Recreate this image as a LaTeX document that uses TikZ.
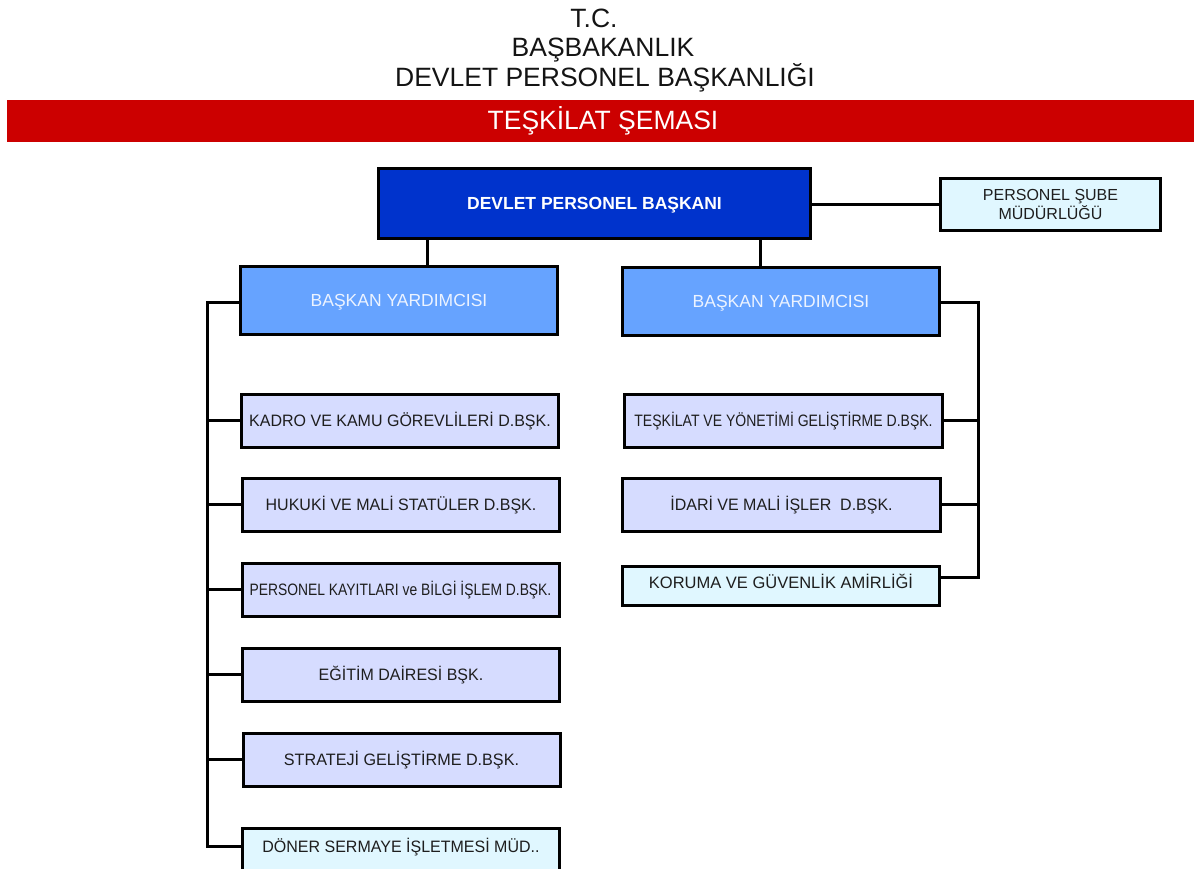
\documentclass[tikz,border=0pt]{standalone}
\usepackage{fontspec}
\setmainfont{Liberation Sans}
\usepackage{graphicx}
\definecolor{redbar}{RGB}{204,0,0}
\definecolor{topblue}{RGB}{0,51,204}
\definecolor{byblue}{RGB}{102,163,255}
\definecolor{lav}{RGB}{214,220,255}
\definecolor{cyanlt}{RGB}{224,247,255}
\definecolor{txt}{RGB}{30,30,30}
\definecolor{bytxt}{RGB}{236,243,255}
\definecolor{ttl}{RGB}{20,20,20}
\newcommand{\hsx}[2]{\scalebox{#1}[1]{#2}}
\begin{document}
\begin{tikzpicture}[x=1pt,y=-1pt,
  title/.style={anchor=base, inner sep=0pt, text=ttl, font=\fontsize{26.5}{30}\selectfont},
  box/.style={draw=black, line width=3pt, inner sep=0pt, minimum height=53pt, minimum width=317pt,
    text=txt, font=\fontsize{16.5}{19}\selectfont, text height=11.8pt, text depth=0pt},
  lavbox/.style={box, fill=lav},
  cyanbox/.style={box, fill=cyanlt},
  bybox/.style={box, fill=byblue, text=bytxt, minimum height=68pt, font=\fontsize{17.5}{20}\selectfont, text height=12.5pt},
  topbox/.style={box, fill=topblue, text=white, minimum width=432pt, minimum height=70pt,
    font=\bfseries\fontsize{17.5}{20}\selectfont, text height=12.5pt},
  psbox/.style={draw=black, line width=3pt, inner sep=0pt, fill=cyanlt, minimum width=220pt, minimum height=52pt,
    text=txt, align=center, font=\fontsize{16}{17}\selectfont},
  conn/.style={draw=black, line width=3pt}]
\useasboundingbox (0,0) rectangle (1194,869);
\clip (0,0) rectangle (1194,869);
\fill[redbar] (7,100) rectangle (1194,142);
\node[title] (tc) at (594,28) {T.C.};
\node[title] (bb) at (603,57) {BAŞBAKANLIK};
\node[title] (dpb) at (605,87) {DEVLET PERSONEL BAŞKANLIĞI};
\node[title, text=white] (ts) at (603,130) {TEŞKİLAT ŞEMASI};

\node[topbox] (top) at (594.5,203.5) {DEVLET PERSONEL BAŞKANI};
\node[psbox] (ps) at (1050.5,204.5) {PERSONEL ŞUBE\\MÜDÜRLÜĞÜ};
\node[bybox] (byL) at (399,300.5) {BAŞKAN YARDIMCISI};
\node[bybox] (byR) at (781,301.5) {BAŞKAN YARDIMCISI};

\node[lavbox] (L1) at (400,420.5) {\hsx{0.97}{KADRO VE KAMU GÖREVLİLERİ D.BŞK.}};
\node[lavbox] (L2) at (401,504.5) {\hsx{0.97}{HUKUKİ VE MALİ STATÜLER D.BŞK.}};
\node[lavbox] (L3) at (400.5,589.5) {\hsx{0.84}{PERSONEL KAYITLARI ve BİLGİ İŞLEM D.BŞK.}};
\node[lavbox] (L4) at (401,674.5) {\hsx{0.97}{EĞİTİM DAİRESİ BŞK.}};
\node[lavbox] (L5) at (401.5,759.5) {\hsx{0.98}{STRATEJİ GELİŞTİRME D.BŞK.}};
\node[cyanbox, minimum height=43pt, text depth=5pt] (L6) at (401,849.5) {\hsx{0.97}{DÖNER SERMAYE İŞLETMESİ MÜD..}};

\node[lavbox, minimum width=318pt] (R1) at (783.5,420.5) {\hsx{0.85}{TEŞKİLAT VE YÖNETİMİ GELİŞTİRME D.BŞK.}};
\node[lavbox, minimum width=318pt] (R2) at (781.5,504.5) {\hsx{0.97}{İDARİ VE MALİ İŞLER\ \ D.BŞK.}};
\node[cyanbox, minimum height=39pt, text depth=6pt] (R3) at (781,586) {KORUMA VE GÜVENLİK AMİRLİĞİ};

\coordinate (jL) at (427.5,240);
\coordinate (jR) at (760.5,240);
\coordinate (sL) at (207.5,302.5);
\coordinate (sR) at (978.5,302.5);
\coordinate (r3e) at ([yshift=8.5pt]R3.east);
\coordinate (l6w) at ([yshift=3pt]L6.west);

\draw[conn] (jL |- top.south) -- (jL |- byL.north);
\draw[conn] (jR |- top.south) -- (jR |- byR.north);
\draw[conn] (top.east |- ps.west) -- (ps.west);

\draw[conn] (byL.west |- sL) -- (sL) -- (sL |- l6w) -- (l6w);
\draw[conn] (sL |- L1.west) -- (L1.west);
\draw[conn] (sL |- L2.west) -- (L2.west);
\draw[conn] (sL |- L3.west) -- (L3.west);
\draw[conn] (sL |- L4.west) -- (L4.west);
\draw[conn] (sL |- L5.west) -- (L5.west);

\draw[conn] (byR.east |- sR) -- (sR) -- (sR |- r3e) -- (r3e);
\draw[conn] (sR |- R1.east) -- (R1.east);
\draw[conn] (sR |- R2.east) -- (R2.east);
\end{tikzpicture}
\end{document}
